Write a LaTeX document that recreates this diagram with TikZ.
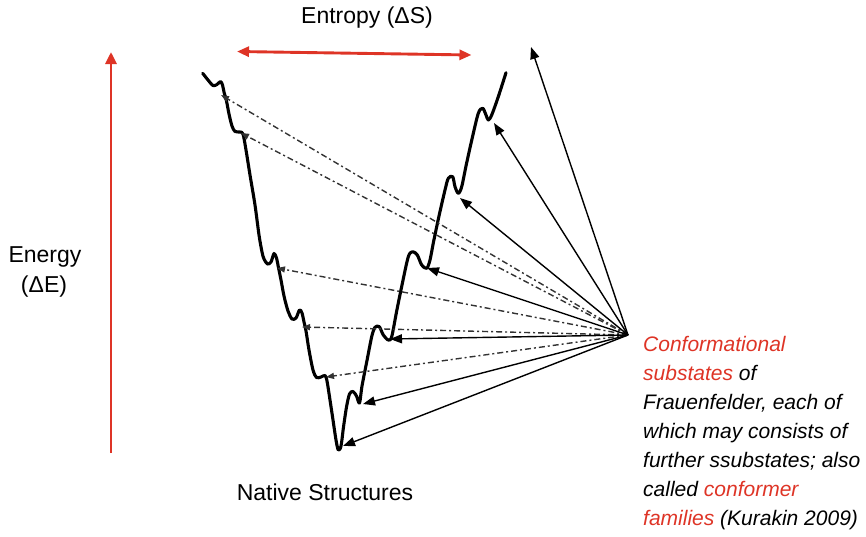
\documentclass[tikz,border=0pt]{standalone}
\usepackage{fontspec}
\setmainfont{Liberation Sans}
\usetikzlibrary{arrows.meta}
\definecolor{axisred}{RGB}{222,52,38}
\definecolor{dashgrey}{RGB}{50,50,50}
\begin{document}
\begin{tikzpicture}[x=1pt,y=-1pt,
  axis/.style={draw=axisred, line width=2.9pt},
  landscape/.style={line width=3.1pt, line join=round, line cap=round},
  pointer/.style={line width=1.4pt, -{Triangle[length=12pt,width=9pt]}},
  subflow/.style={draw=dashgrey, line width=1.4pt, dash pattern=on 6pt off 3pt on 2pt off 3pt,
                  -{Triangle[length=8pt,width=6pt]}},
  label/.style={font=\fontsize{23}{30}\selectfont, inner sep=0pt},
  note/.style={font=\fontsize{21}{29}\selectfont\itshape, inner sep=0pt, align=left}
]
\useasboundingbox (0,0) rectangle (866,536);

% axes
\coordinate (eBottom) at (111,453);
\coordinate (eTop) at (111,52);
\coordinate (sLeft) at (237,51.5);
\coordinate (sRight) at (471.5,55);
\draw[axis, -{Triangle[length=12pt,width=11pt]}] (eBottom) -- (eTop);
\draw[axis, {Triangle[length=12pt,width=10pt]}-{Triangle[length=12pt,width=10pt]}] (sLeft) -- (sRight);

\node[label, anchor=base] (entropy) at (367,23) {Entropy (ΔS)};
\node[label, anchor=base] (energy) at (45,262) {Energy};
\node[label, anchor=base] (energyunit) at (44,292) {(ΔE)};
\node[label, anchor=base] (native) at (325,500) {Native Structures};

% energy landscape profile
\draw[landscape] plot[smooth, tension=0.5] coordinates {
  (202.7,73.3) (208,80) (213,85.5) (217,84.5) (220.5,81.5) (222.5,85)
  (224,92) (226.5,101) (229,114) (232,126) (235,131.5) (240,132)
  (243,134) (246,150) (250,175) (255,205) (259,235)
  (262,252) (264,259) (267.5,264) (271,262) (274,253.5) (276.5,258)
  (278.3,266.7) (281,280) (284,296) (288,311) (292,319) (296,318)
  (299.5,310) (302,313) (304,322) (306,331) (309,350) (313,370)
  (316.5,377.5) (321,377) (325,375.5) (327,381) (330,400) (333,420)
  (336,440) (338.3,450) (341,446) (343.5,427) (346.5,407) (349.5,394)
  (353,391.5) (356.5,396) (359.5,403) (362,386) (366.7,362)
  (371.7,336.7) (375,327.3) (379.3,326.7) (383.3,335) (388.3,340)
  (391.7,336.7) (396.5,312) (402,285) (408.3,256.7) (412.7,251.7)
  (417.3,255) (421.7,265) (426.7,268.3) (430,260) (433.5,242)
  (439,216) (445,190) (448.3,178.3) (452.7,176.7)
  (455,186.7) (458.3,193.3) (461.7,186.7) (466,166) (472,139)
  (478.3,113.3) (482.7,108.3) (486,115) (488.3,120)
  (491.7,115) (498.3,96.7) (506,72.7)};

% hub and targets
\coordinate (hub) at (628,335);
\coordinate (w1) at (221,95);
\coordinate (w2) at (241,133);
\coordinate (w3) at (277,268);
\coordinate (w4) at (302,327);
\coordinate (w5) at (326,377);
\coordinate (r1) at (531,47);
\coordinate (r2) at (494,123);
\coordinate (r3) at (460,198);
\coordinate (r4) at (427,268);
\coordinate (r5) at (390,339);
\coordinate (r6) at (363,404);
\coordinate (r7) at (343,446);

\foreach \w in {w1,w2,w3,w4,w5} \draw[subflow] (hub) -- (\w);
\foreach \r in {r1,r2,r3,r4,r5,r6,r7} \draw[pointer] (hub) -- (\r);

\node[note, anchor=north west] (caption) at (643,336.5) {%
  \textcolor{axisred}{Conformational}\\
  \textcolor{axisred}{substates} of\\
  Frauenfelder, each of\\
  which may consists of\\
  further ssubstates; also\\
  called \textcolor{axisred}{conformer}\\
  \textcolor{axisred}{families} (Kurakin 2009)};
\end{tikzpicture}
\end{document}
